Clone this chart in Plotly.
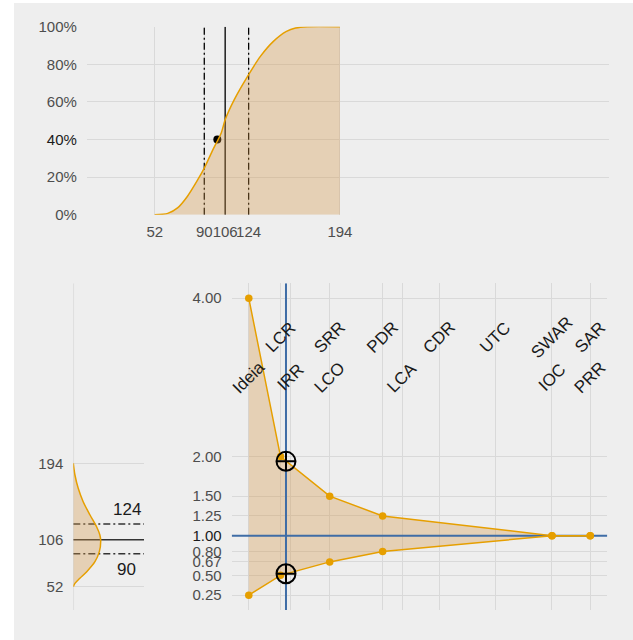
import plotly.graph_objects as go

W, H = 633, 640

# ---- estimate distribution (cumulative and density) ----
cdf_x = [52, 62, 69.5, 77, 85, 90, 96, 103, 106, 113, 124, 133, 143, 153, 160, 169, 194]
cdf_y = [0.0, 0.007, 0.036, 0.097, 0.186, 0.248, 0.337, 0.435, 0.505, 0.612, 0.745, 0.842, 0.922, 0.975, 0.993, 1.0, 1.0]

dens_value = [52, 55.9, 61.7, 69.3, 80.8, 92.3, 104.6, 111.5, 121, 134.5, 149.8, 165.2, 180.5, 194]
dens_level = [0.0, 0.06, 0.24, 0.49, 0.79, 0.95, 1.0, 0.97, 0.85, 0.61, 0.36, 0.18, 0.06, 0.0]

x_ticks = [52, 90, 106, 124, 194]
p25, p50, p75 = 90, 106, 124
current_point = (100, 0.40)
pct_ticks = [0, 0.2, 0.4, 0.6, 0.8, 1.0]
pct_labels = ["0%", "20%", "40%", "60%", "80%", "100%"]

# ---- cone of uncertainty ----
milestones = ["Ideia", "LCR", "IRR", "SRR", "LCO", "PDR", "LCA", "CDR", "UTC", "SWAR", "IOC", "SAR", "PRR"]
milestone_pos = [0, 9.3, 12.2, 23.7, 23.7, 39.2, 44.9, 55.8, 72.2, 88.8, 88.8, 100, 100]
milestone_row = [3.0, 3.5, 3.0, 3.5, 3.0, 3.5, 3.0, 3.5, 3.5, 3.5, 3.0, 3.5, 3.0]

cone_x = [0, 9.3, 23.7, 39.2, 88.8, 100]
cone_upper = [4.0, 2.0, 1.5, 1.25, 1.0, 1.0]
cone_lower = [0.25, 0.5, 0.67, 0.8, 1.0, 1.0]
cone_ticks = [0.25, 0.5, 0.67, 0.8, 1.0, 1.25, 1.5, 2.0, 4.0]
cone_labels = ["0.25", "0.50", "0.67", "0.80", "1.00", "1.25", "1.50", "2.00", "4.00"]
now_x = 10.9
now_upper, now_lower = 1.94, 0.52

# ---- styling ----
BG = "#EEEEEE"
GRID = "#D9D9D9"
ORANGE = "#E69F00"
FILL = "rgba(212,150,70,0.34)"
BLUE = "#3F6DA6"
TXT = "#4D4D4D"
FONT = "Liberation Sans, Arial, sans-serif"
DASHDOT = "7px,3px,2px,3px"


def px_x(p):
    return p / W


def px_y(p):
    return 1 - p / H


fig = go.Figure()

# top: cumulative probability
for v, d in [(p25, DASHDOT), (p50, "solid"), (p75, DASHDOT)]:
    fig.add_trace(go.Scatter(x=[v, v], y=[0, 1], mode="lines",
                             line=dict(color="black", width=1.3, dash=d),
                             xaxis="x", yaxis="y", hoverinfo="skip"))
fig.add_trace(go.Scatter(x=[current_point[0]], y=[current_point[1]], mode="markers",
                         marker=dict(color="black", size=8), xaxis="x", yaxis="y"))
fig.add_trace(go.Scatter(x=cdf_x, y=cdf_y, mode="lines", fill="tozeroy", fillcolor=FILL,
                         line=dict(color=ORANGE, width=1.5, shape="spline", smoothing=0.8),
                         xaxis="x", yaxis="y"))

# bottom-left: density turned sideways
fig.add_trace(go.Scatter(x=[0, 0], y=[25.2, 401], mode="lines", cliponaxis=False,
                         line=dict(color=GRID, width=1.5), xaxis="x2", yaxis="y2",
                         hoverinfo="skip"))
for v, d in [(p25, DASHDOT), (p50, "solid"), (p75, DASHDOT)]:
    fig.add_trace(go.Scatter(x=[0, 2.58], y=[v, v], mode="lines",
                             line=dict(color="#333333", width=1.5, dash=d),
                             xaxis="x2", yaxis="y2", hoverinfo="skip"))
fig.add_trace(go.Scatter(x=dens_level, y=dens_value, mode="lines", fill="tozerox", fillcolor=FILL,
                         line=dict(color=ORANGE, width=1.5, shape="spline", smoothing=0.9),
                         xaxis="x2", yaxis="y2"))

# bottom-right: cone
fig.add_trace(go.Scatter(x=cone_x + cone_x[::-1], y=cone_upper + cone_lower[::-1],
                         mode="lines", fill="toself", fillcolor=FILL, line=dict(width=0),
                         xaxis="x3", yaxis="y3", hoverinfo="skip"))
fig.add_trace(go.Scatter(x=[now_x, now_x], y=[0.0625, 4.1875], mode="lines",
                         line=dict(color=BLUE, width=2), xaxis="x3", yaxis="y3"))
fig.add_trace(go.Scatter(x=[-5, 105], y=[1.0, 1.0], mode="lines",
                         line=dict(color=BLUE, width=2), xaxis="x3", yaxis="y3"))
for ys in (cone_upper, cone_lower):
    fig.add_trace(go.Scatter(x=cone_x, y=ys, mode="lines+markers",
                             line=dict(color=ORANGE, width=1.5),
                             marker=dict(color=ORANGE, size=7.5),
                             xaxis="x3", yaxis="y3"))
fig.add_trace(go.Scatter(x=[now_x, now_x], y=[now_upper, now_lower], mode="markers",
                         marker=dict(symbol="circle-cross-open", size=19,
                                     color="black", line=dict(color="black", width=2)),
                         xaxis="x3", yaxis="y3"))

annotations = []
for name, pos, row in zip(milestones, milestone_pos, milestone_row):
    annotations.append(dict(x=pos, y=row, xref="x3", yref="y3", text=name, showarrow=False,
                            textangle=-45, font=dict(size=17, color="#1A1A1A", family=FONT)))
annotations.append(dict(x=1.95, y=p75, xref="x2", yref="y2", text=str(p75), showarrow=False,
                        yshift=15, font=dict(size=17, color="#1A1A1A", family=FONT)))
annotations.append(dict(x=1.95, y=p25, xref="x2", yref="y2", text=str(p25), showarrow=False,
                        yshift=-16, font=dict(size=17, color="#1A1A1A", family=FONT)))

axis_common = dict(showgrid=True, gridcolor=GRID, gridwidth=1.3, zeroline=False,
                   showline=False, ticks="outside", ticklen=6, tickcolor="rgba(0,0,0,0)",
                   tickfont=dict(size=15, color=TXT, family=FONT), automargin=False,
                   fixedrange=True, tickmode="array")


def dark(s):
    return f'<span style="color:#1A1A1A">{s}</span>'


fig.update_layout(
    width=W, height=H,
    margin=dict(l=0, r=0, t=0, b=0),
    paper_bgcolor="white", plot_bgcolor="rgba(0,0,0,0)",
    showlegend=False, template="none",
    xaxis=dict(axis_common, domain=[px_x(86.9), px_x(608.6)], range=[0, 400], ticklen=3,
               tickvals=x_ticks, ticktext=[str(v) for v in x_ticks], tickangle=0, anchor="y"),
    yaxis=dict(axis_common, domain=[px_y(214.7), px_y(26.7)], range=[0, 1],
               tickvals=pct_ticks,
               ticktext=[dark(t) if t == "40%" else t for t in pct_labels], anchor="x"),
    xaxis2=dict(axis_common, domain=[px_x(73.3), px_x(144)], range=[0, 2.58],
                tickvals=[0], showticklabels=False, anchor="y2"),
    yaxis2=dict(axis_common, domain=[px_y(610), px_y(283.3)], range=[25.2, 401],
                tickvals=[52, 106, 194], ticktext=["52", "106", "194"], anchor="x2"),
    xaxis3=dict(axis_common, domain=[px_x(231.7), px_x(607.3)], range=[-5, 105],
                tickvals=sorted(set(milestone_pos)), showticklabels=False, anchor="y3"),
    yaxis3=dict(axis_common, domain=[px_y(610), px_y(283.3)], range=[0.0625, 4.1875],
                tickvals=cone_ticks,
                ticktext=[dark(t) if t == "1.00" else t for t in cone_labels], anchor="x3"),
    annotations=annotations,
    shapes=[dict(type="rect", xref="paper", yref="paper", x0=px_x(14), x1=1.0,
                 y0=0, y1=px_y(3), fillcolor=BG, line=dict(width=0), layer="below")],
)

fig.write_html("out.html")
